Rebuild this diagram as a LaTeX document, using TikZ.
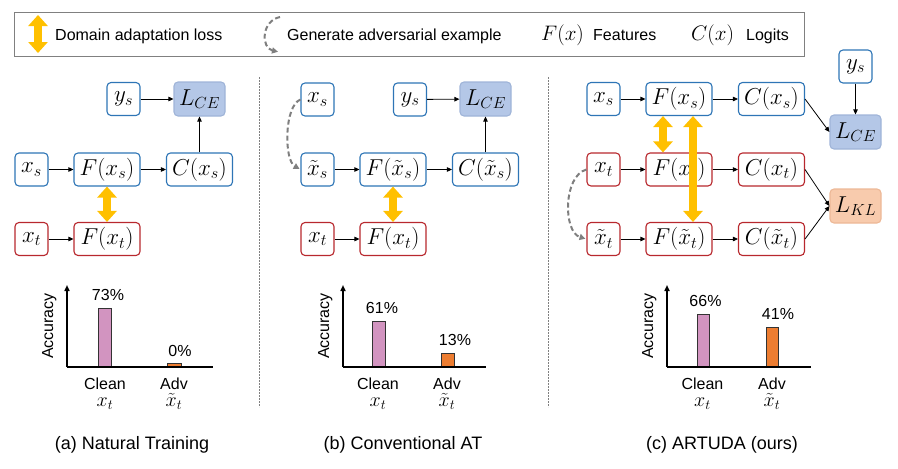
\RequirePackage{fix-cm}
\documentclass[tikz,border=0pt]{standalone}
\usepackage[no-math]{fontspec}
\setmainfont{Liberation Sans}
\usetikzlibrary{arrows.meta}
\definecolor{bblue}{HTML}{2E75B6}
\definecolor{rred}{HTML}{B8282E}
\definecolor{lblue}{HTML}{B4C7E7}
\definecolor{lbluedk}{HTML}{9FB4D8}
\definecolor{peach}{HTML}{F8CBAD}
\definecolor{peachdk}{HTML}{EDB896}
\definecolor{gold}{HTML}{FFC000}
\definecolor{pinkbar}{HTML}{D294C0}
\definecolor{orangebar}{HTML}{ED7D31}
\definecolor{dgray}{HTML}{7F7F7F}
\tikzset{
  box/.style={draw, rounded corners=4pt, line width=1.1pt, fill=white, minimum height=33pt, inner sep=0pt, font=\fontsize{23}{27}\selectfont},
  sbox/.style={box, minimum width=33pt},
  wbox/.style={box, minimum width=66pt},
  src/.style={draw=bblue},
  tgt/.style={draw=rred},
  cebox/.style={box, minimum width=51pt, minimum height=34pt, fill=lblue, draw=lbluedk},
  klbox/.style={box, minimum width=51pt, minimum height=34pt, fill=peach, draw=peachdk},
  arr/.style={line width=0.8pt, -{Triangle[length=5pt,width=4.5pt]}},
  ydbl/.style={draw=gold, line width=8pt, {Triangle[width=19pt,length=11pt]}-{Triangle[width=19pt,length=11pt]}},
  gen/.style={draw=dgray, line width=2pt, dash pattern=on 5pt off 3pt, -{Triangle[length=6pt,width=6pt]}, shorten >=1pt},
  sep/.style={draw=gray, line width=1pt, dash pattern=on 2pt off 1pt},
  axis/.style={line width=1.5pt},
  yaxis/.style={line width=1.5pt, -{Triangle[length=6pt,width=5pt]}},
  bar/.style={draw=black!80, line width=0.8pt},
  lab/.style={font=\fontsize{16}{19}\selectfont, inner sep=0pt},
  lmath/.style={font=\fontsize{21}{25}\selectfont, inner sep=0pt},
  bmath/.style={font=\fontsize{20}{24}\selectfont, inner sep=0pt},
  capt/.style={font=\fontsize{18}{21}\selectfont, inner sep=0pt},
}
\begin{document}
\begin{tikzpicture}[x=1pt,y=-1pt]
\useasboundingbox (0,0) rectangle (898,469);
% ---------------- legend
\node[draw=gray, line width=1pt, minimum width=790pt, minimum height=44pt, anchor=north west, inner sep=0pt] (legend) at (14,12) {};
\coordinate (lgA1) at (38,15);
\coordinate (lgA2) at (38,53);
\draw[ydbl] (lgA1) -- (lgA2);
\node[lab, anchor=base west] (lgT1) at (55,40) {Domain adaptation loss};
\coordinate (lgB1) at (280,17);
\coordinate (lgB2) at (279,52);
\draw[gen] (lgB1) .. controls (261,21) and (261,48) .. (lgB2);
\node[lab, anchor=base west] (lgT2) at (287,40) {Generate adversarial example};
\node[lmath, anchor=base west] (lgF) at (541,40) {$F(x)$};
\node[lab, anchor=base west] (lgT3) at (593,40) {Features};
\node[lmath, anchor=base west] (lgC) at (691,40) {$C(x)$};
\node[lab, anchor=base west] (lgT4) at (746,40) {Logits};
% ---------------- separators
\coordinate (s1a) at (259,77); \coordinate (s1b) at (259,407);
\coordinate (s2a) at (548,77); \coordinate (s2b) at (548,407);
\draw[sep] (s1a) -- (s1b);
\draw[sep] (s2a) -- (s2b);
% ---------------- panel (a)
\node[sbox,src] (ysA) at (123.5,99) {$y_s$};
\node[cebox] (LA) at (199.5,99) {$L_{CE}$};
\node[sbox,src] (xsA) at (31.5,169.5) {$x_s$};
\node[wbox,src] (FxsA) at (107,169.5) {$F(x_s)$};
\node[wbox,src] (CxsA) at (199.5,169.5) {$C(x_s)$};
\node[sbox,tgt] (xtA) at (31.5,239) {$x_t$};
\node[wbox,tgt] (FxtA) at (107,239) {$F(x_t)$};
\draw[arr] (ysA) -- (LA);
\draw[arr] (xsA) -- (FxsA);
\draw[arr] (FxsA) -- (CxsA);
\draw[arr] (CxsA.north) -- (LA.south);
\draw[arr] (xtA) -- (FxtA);
\draw[ydbl] (FxsA.south) -- (FxtA.north);
% ---------------- panel (b)
\node[sbox,src] (xsB) at (317.5,99.5) {$x_s$};
\node[sbox,src] (ysB) at (410,99.5) {$y_s$};
\node[cebox] (LB) at (485.5,99) {$L_{CE}$};
\node[sbox,src] (xtsB) at (317.5,169.5) {$\tilde{x}_s$};
\node[wbox,src] (FxtsB) at (393,169.5) {$F(\tilde{x}_s)$};
\node[wbox,src] (CxtsB) at (485.5,169.5) {$C(\tilde{x}_s)$};
\node[sbox,tgt] (xtB) at (317.5,239) {$x_t$};
\node[wbox,tgt] (FxtB) at (393,239) {$F(x_t)$};
\draw[arr] (ysB) -- (LB);
\draw[arr] (xtsB) -- (FxtsB);
\draw[arr] (FxtsB) -- (CxtsB);
\draw[arr] (CxtsB.north) -- (LB.south);
\draw[arr] (xtB) -- (FxtB);
\draw[ydbl] (FxtsB.south) -- (FxtB.north);
\draw[gen] (xsB.west) .. controls (284,106) and (284,160) .. (xtsB.west);
% ---------------- panel (c)
\node[sbox,src] (ysC) at (855.5,66.5) {$y_s$};
\node[sbox,src] (xsC) at (603.5,99) {$x_s$};
\node[wbox,src] (FxsC) at (679,99) {$F(x_s)$};
\node[wbox,src] (CxsC) at (771.5,99) {$C(x_s)$};
\node[cebox] (LCEC) at (855.5,132) {$L_{CE}$};
\node[sbox,tgt] (xtC) at (603.5,169.5) {$x_t$};
\node[wbox,tgt] (FxtC) at (679,169.5) {$F(x_t)$};
\node[wbox,tgt] (CxtC) at (771.5,169.5) {$C(x_t)$};
\node[klbox] (LKLC) at (855.5,206) {$L_{KL}$};
\node[sbox,tgt] (xttC) at (603.5,239) {$\tilde{x}_t$};
\node[wbox,tgt] (FxttC) at (679,239) {$F(\tilde{x}_t)$};
\node[wbox,tgt] (CxttC) at (771.5,239) {$C(\tilde{x}_t)$};
\draw[arr] (xsC) -- (FxsC);
\draw[arr] (FxsC) -- (CxsC);
\draw[arr] (xtC) -- (FxtC);
\draw[arr] (FxtC) -- (CxtC);
\draw[arr] (xttC) -- (FxttC);
\draw[arr] (FxttC) -- (CxttC);
\draw[arr] (ysC.south) -- (LCEC.north);
\draw[arr] (CxsC.east) -- (LCEC.west);
\draw[arr] (CxtC.east) -- (LKLC.west);
\draw[arr] (CxttC.east) -- (LKLC.west);
\draw[ydbl] ([xshift=-16pt]FxsC.south) -- ([xshift=-16pt]FxtC.north);
\draw[ydbl] ([xshift=14pt]FxsC.south) -- ([xshift=14pt]FxttC.north);
\draw[gen] (xtC.west) .. controls (563,176) and (563,232) .. (xttC.west);
% ---------------- bar chart (a)
\coordinate (oA) at (67,367);
\coordinate (tA) at (67,285);
\coordinate (rA) at (213,367);
\draw[bar, fill=pinkbar] (98,308) rectangle (111,367);
\draw[bar, fill=orangebar] (167,363) rectangle (181,367);
\draw[axis] (oA) -- (rA);
\draw[yaxis] (oA) -- (tA);
\node[lab, rotate=90, anchor=base] (accA) at (53,326) {Accuracy};
\node[lab, anchor=base] (pA1) at (108,300) {73\%};
\node[lab, anchor=base] (pA2) at (180,356) {0\%};
\node[lab, anchor=base] (cA1) at (105,389) {Clean};
\node[lab, anchor=base] (cA2) at (174,389) {Adv};
\node[bmath, anchor=base] (mA1) at (105,406) {$x_t$};
\node[bmath, anchor=base] (mA2) at (174,406) {$\tilde{x}_t$};
\node[capt, anchor=base] (capA) at (132,449) {(a) Natural Training};
% ---------------- bar chart (b)
\coordinate (oB) at (343,367);
\coordinate (tB) at (343,285);
\coordinate (rB) at (486,367);
\draw[bar, fill=pinkbar] (372,321) rectangle (385,367);
\draw[bar, fill=orangebar] (441,353) rectangle (454,367);
\draw[axis] (oB) -- (rB);
\draw[yaxis] (oB) -- (tB);
\node[lab, rotate=90, anchor=base] (accB) at (329,326) {Accuracy};
\node[lab, anchor=base] (pB1) at (382,313) {61\%};
\node[lab, anchor=base] (pB2) at (455,345) {13\%};
\node[lab, anchor=base] (cB1) at (378,389) {Clean};
\node[lab, anchor=base] (cB2) at (447,389) {Adv};
\node[bmath, anchor=base] (mB1) at (378,406) {$x_t$};
\node[bmath, anchor=base] (mB2) at (447,406) {$\tilde{x}_t$};
\node[capt, anchor=base] (capB) at (403,449) {(b) Conventional AT};
% ---------------- bar chart (c)
\coordinate (oC) at (667,367);
\coordinate (tC) at (667,285);
\coordinate (rC) at (811,367);
\draw[bar, fill=pinkbar] (697,314) rectangle (709,367);
\draw[bar, fill=orangebar] (766,327) rectangle (778,367);
\draw[axis] (oC) -- (rC);
\draw[yaxis] (oC) -- (tC);
\node[lab, rotate=90, anchor=base] (accC) at (653,326) {Accuracy};
\node[lab, anchor=base] (pC1) at (705.5,306) {66\%};
\node[lab, anchor=base] (pC2) at (778,319) {41\%};
\node[lab, anchor=base] (cC1) at (702.5,389) {Clean};
\node[lab, anchor=base] (cC2) at (772,389) {Adv};
\node[bmath, anchor=base] (mC1) at (702.5,406) {$x_t$};
\node[bmath, anchor=base] (mC2) at (772,406) {$\tilde{x}_t$};
\node[capt, anchor=base] (capC) at (722,449) {(c) ARTUDA (ours)};
\end{tikzpicture}
\end{document}
